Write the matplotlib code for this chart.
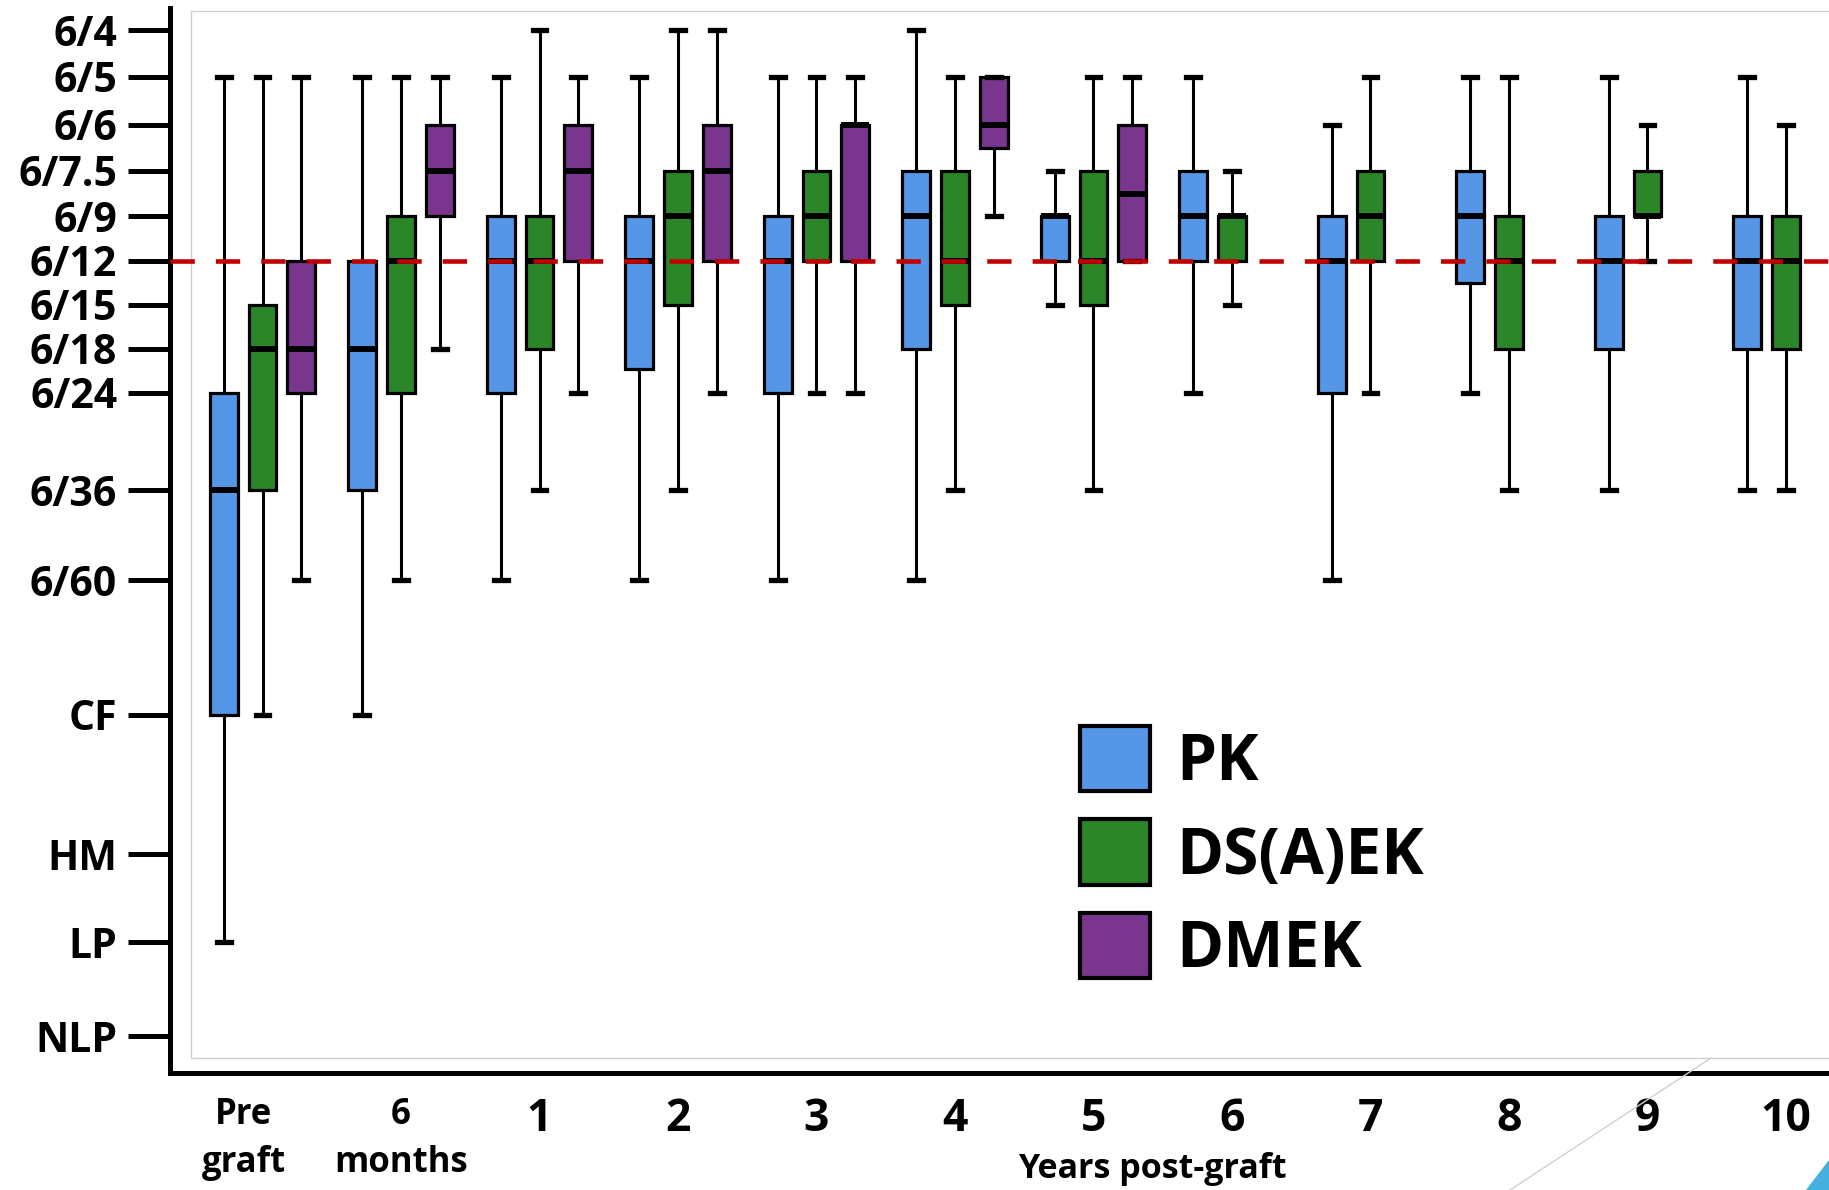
import numpy as np
import matplotlib
matplotlib.use("Agg")
import matplotlib.pyplot as plt
from matplotlib.patches import Patch, Rectangle, Polygon
from matplotlib.lines import Line2D
from matplotlib.transforms import ScaledTranslation

plt.rcParams['font.family'] = ['Open Sans', 'DejaVu Sans']

# Visual-acuity levels shown on the y axis (index 0 = best)
ACUITY_LABELS = ['6/4', '6/5', '6/6', '6/7.5', '6/9', '6/12', '6/15', '6/18',
                 '6/24', '6/36', '6/60', 'CF', 'HM', 'LP', 'NLP']
GROUP_LABELS = ['Pre\ngraft', '6\nmonths', '1', '2', '3', '4', '5', '6',
                '7', '8', '9', '10']
TECHNIQUES = ['PK', 'DS(A)EK', 'DMEK']

# Box statistics in acuity-level index units (fractional = between two lines)
PK_WHISKER_HIGH = [1, 1, 1, 1, 1, 0, 3, 1, 2, 1, 1, 1]
PK_Q3 = [8, 5, 4, 4, 4, 3, 4, 3, 4, 3, 4, 4]
PK_MEDIAN = [9, 7, 5, 5, 5, 4, 4, 4, 5, 4, 5, 5]
PK_Q1 = [11, 9, 8, 7.45, 8, 7, 5, 5, 8, 5.5, 7, 7]
PK_WHISKER_LOW = [13, 11, 10, 10, 10, 10, 6, 8, 10, 8, 9, 9]

DSAEK_WHISKER_HIGH = [1, 1, 0, 0, 1, 1, 1, 3, 1, 1, 2, 2]
DSAEK_Q3 = [6, 4, 4, 3, 3, 3, 3, 4, 3, 4, 3, 4]
DSAEK_MEDIAN = [7, 5, 5, 4, 4, 5, 5, 4, 4, 5, 4, 5]
DSAEK_Q1 = [9, 8, 7, 6, 5, 6, 6, 5, 5, 7, 4, 7]
DSAEK_WHISKER_LOW = [11, 10, 9, 9, 8, 9, 9, 6, 8, 9, 5, 9]

# DMEK only reported up to 5 years
DMEK_WHISKER_HIGH = [1, 1, 1, 0, 1, 1, 1]
DMEK_Q3 = [5, 2, 2, 2, 2, 1, 2]
DMEK_MEDIAN = [7, 3, 3, 3, 2, 2, 3.5]
DMEK_Q1 = [8, 4, 5, 5, 5, 2.5, 5]
DMEK_WHISKER_LOW = [10, 7, 8, 8, 8, 4, 5]

THRESHOLD_LEVEL = '6/12'

COLORS = {'PK': '#5596E6', 'DS(A)EK': '#2A8628', 'DMEK': '#7A368F'}
OFFSETS = {'PK': -0.28, 'DS(A)EK': 0.0, 'DMEK': 0.28}

# Non-uniform vertical spacing of the acuity scale
SCALE_INDEX = np.arange(-1, 16, dtype=float)
SCALE_SPACING = np.array([-18, 30, 77, 125, 171, 216, 261, 305, 349, 393,
                          490, 580, 715, 854, 942, 1036, 1130], dtype=float)


def to_spacing(v):
    return np.interp(v, SCALE_INDEX, SCALE_SPACING)


def from_spacing(v):
    return np.interp(v, SCALE_SPACING, SCALE_INDEX)


W, H = 1829, 1190
fig = plt.figure(figsize=(W / 100, H / 100), dpi=100)
ax = fig.add_axes([170 / W, (H - 1073) / H, (W - 170) / W, (1073 - 8) / H])
ax.set_yscale('function', functions=(to_spacing, from_spacing))
ax.patch.set_alpha(0)

# faint frame of the original plotting panel
ax.add_patch(Rectangle((191 / W, 1 - 1058 / H), 1.0, (1058 - 11) / H,
                       transform=fig.transFigure, fill=False,
                       edgecolor='#cfcfcf', linewidth=1.0, clip_on=False,
                       zorder=0.2))

series = {
    'PK': (PK_WHISKER_HIGH, PK_Q3, PK_MEDIAN, PK_Q1, PK_WHISKER_LOW),
    'DS(A)EK': (DSAEK_WHISKER_HIGH, DSAEK_Q3, DSAEK_MEDIAN, DSAEK_Q1,
                DSAEK_WHISKER_LOW),
    'DMEK': (DMEK_WHISKER_HIGH, DMEK_Q3, DMEK_MEDIAN, DMEK_Q1,
             DMEK_WHISKER_LOW),
}

for tech in TECHNIQUES:
    hi, q3, med, q1, lo = series[tech]
    stats = [dict(whishi=hi[i], q3=q3[i], med=med[i], q1=q1[i],
                  whislo=lo[i], fliers=[]) for i in range(len(med))]
    pos = [i + OFFSETS[tech] for i in range(len(med))]
    ax.bxp(stats, positions=pos, widths=0.2, capwidths=0.1,
           patch_artist=True, showfliers=False, manage_ticks=False,
           boxprops=dict(facecolor=COLORS[tech], edgecolor='black',
                         linewidth=2.3),
           medianprops=dict(color='black', linewidth=4.3,
                            solid_capstyle='butt'),
           whiskerprops=dict(color='black', linewidth=2.2),
           capprops=dict(color='black', linewidth=3.8))

ax.axhline(ACUITY_LABELS.index(THRESHOLD_LEVEL), color='#C00000',
           linewidth=3.3, dashes=(5.3, 4.6), zorder=6)

ax.set_ylim(from_spacing(1073), from_spacing(8))
ax.set_xlim((170 - 262.5) / 138.5, (W - 262.5) / 138.5)

ax.set_yticks(range(len(ACUITY_LABELS)))
ax.set_yticklabels(ACUITY_LABELS, fontsize=29.5, fontweight='bold')
ax.tick_params(axis='y', length=30, width=3.6, pad=8, direction='out')

ax.set_xticks(range(len(GROUP_LABELS)))
ax.set_xticklabels(GROUP_LABELS, fontweight='bold', linespacing=1.45)
ax.tick_params(axis='x', length=0, pad=17)
for lbl, txt in zip(ax.get_xticklabels(), GROUP_LABELS):
    lbl.set_fontsize(25 if '\n' in txt else 32)
first = ax.get_xticklabels()[0]
first.set_transform(first.get_transform()
                    + ScaledTranslation(-0.19, 0, fig.dpi_scale_trans))

for side in ('top', 'right'):
    ax.spines[side].set_visible(False)
for side in ('left', 'bottom'):
    ax.spines[side].set_linewidth(3.6)
    ax.spines[side].set_color('black')

fig.text(1152 / W, 1 - 1169 / H, 'Years post-graft', ha='center',
         va='center', fontsize=24.5, fontweight='bold')

handles = [Patch(facecolor=COLORS[t], edgecolor='black', linewidth=3,
                 label=t) for t in TECHNIQUES]
ax.legend(handles=handles, loc='upper left',
          bbox_to_anchor=(1080 / W, 1 - 726 / H),
          bbox_transform=fig.transFigure, frameon=False,
          prop=dict(family='Open Sans', weight='bold', size=46),
          handlelength=1.1, handleheight=1.2, handletextpad=0.4,
          labelspacing=0.36, borderpad=0, borderaxespad=0)

# slide decoration in the lower-right corner
fig.add_artist(Line2D([1711 / W, 1510 / W], [1 - 1058 / H, 0],
                      transform=fig.transFigure, color='#d0d0d0',
                      linewidth=1.0))
fig.add_artist(Polygon([(1806 / W, 0), (1.0, 1 - 1160 / H), (1.0, 0)],
                       closed=True, transform=fig.transFigure,
                       facecolor='#45B0E0', edgecolor='none'))

fig.savefig('out.png', dpi=100)
